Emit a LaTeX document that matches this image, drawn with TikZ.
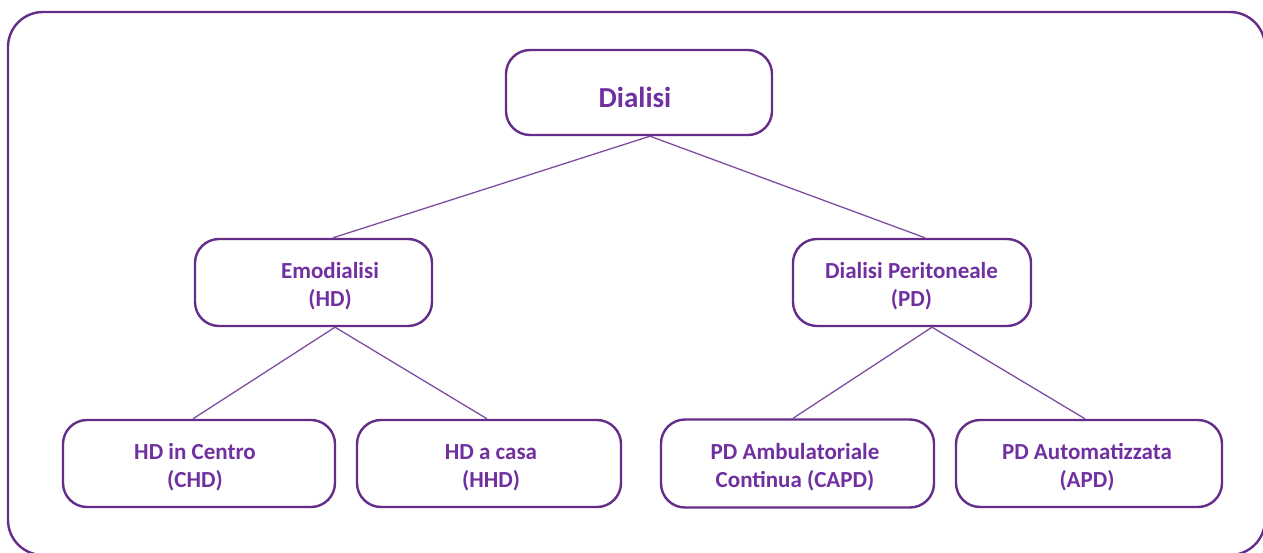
\documentclass[tikz,border=0pt]{standalone}
\usepackage{fontspec}
\setmainfont{Carlito}
\definecolor{txtpurple}{RGB}{112,48,160}
\definecolor{edgepurple}{RGB}{100,45,138}
\definecolor{linkpurple}{RGB}{125,78,160}
\begin{document}
\begin{tikzpicture}[x=1pt,y=-1pt,
  frame/.style={draw=edgepurple, line width=2.4pt, rounded corners=35pt},
  box/.style={draw=edgepurple, line width=2.4pt, rounded corners=24pt, fill=white, inner sep=0pt},
  lbl/.style={text=txtpurple, align=center, inner sep=0pt, font=\fontsize{23}{28}\selectfont\bfseries},
  toplbl/.style={lbl, font=\fontsize{29}{35}\selectfont\bfseries},
  link/.style={draw=linkpurple, line width=1.3pt}]
\useasboundingbox (0,0) rectangle (1263,553);
\begin{scope}
\clip (0,0) rectangle (1263,553);
\draw[frame] (8,12) rectangle (1265,555);
\end{scope}

% boxes
\node[box, minimum width=266pt, minimum height=85pt] (dia)  at (639,92.5) {};
\node[box, minimum width=237pt, minimum height=87pt] (emo)  at (313.5,282.5) {};
\node[box, minimum width=238pt, minimum height=87pt] (pd)   at (912,282.5) {};
\node[box, minimum width=272pt, minimum height=87pt] (hdc)  at (199,463.5) {};
\node[box, minimum width=264pt, minimum height=87pt] (hhd)  at (489,463.5) {};
\node[box, minimum width=273pt, minimum height=88pt] (capd) at (797.5,463.5) {};
\node[box, minimum width=266pt, minimum height=87pt] (apd)  at (1089,463.5) {};

% labels
\node[toplbl] (tdia)  at (635,97.5)  {Dialisi};
\node[lbl]    (temo)  at (330,286.5) {Emodialisi\\(HD)};
\node[lbl]    (tpd)   at (911.5,286.5) {Dialisi Peritoneale\\(PD)};
\node[lbl]    (thdc)  at (195,467.5) {HD in Centro\\(CHD)};
\node[lbl]    (thhd)  at (491,467.5) {HD a casa\\(HHD)};
\node[lbl]    (tcapd) at (795,467.5) {PD Ambulatoriale\\Continua (CAPD)};
\node[lbl]    (tapd)  at (1087,467.5) {PD Automatizzata\\(APD)};

% connectors
\draw[link] ([xshift=11pt]dia.south) -- ([xshift=19.5pt]emo.north);
\draw[link] ([xshift=11pt]dia.south) -- ([xshift=13pt]pd.north);
\draw[link] ([xshift=21.5pt]emo.south) -- ([xshift=-6pt]hdc.north);
\draw[link] ([xshift=21.5pt]emo.south) -- ([xshift=-2pt]hhd.north);
\draw[link] ([xshift=20pt]pd.south) -- ([xshift=-4.5pt]capd.north);
\draw[link] ([xshift=20pt]pd.south) -- ([xshift=-4pt]apd.north);
\end{tikzpicture}
\end{document}
